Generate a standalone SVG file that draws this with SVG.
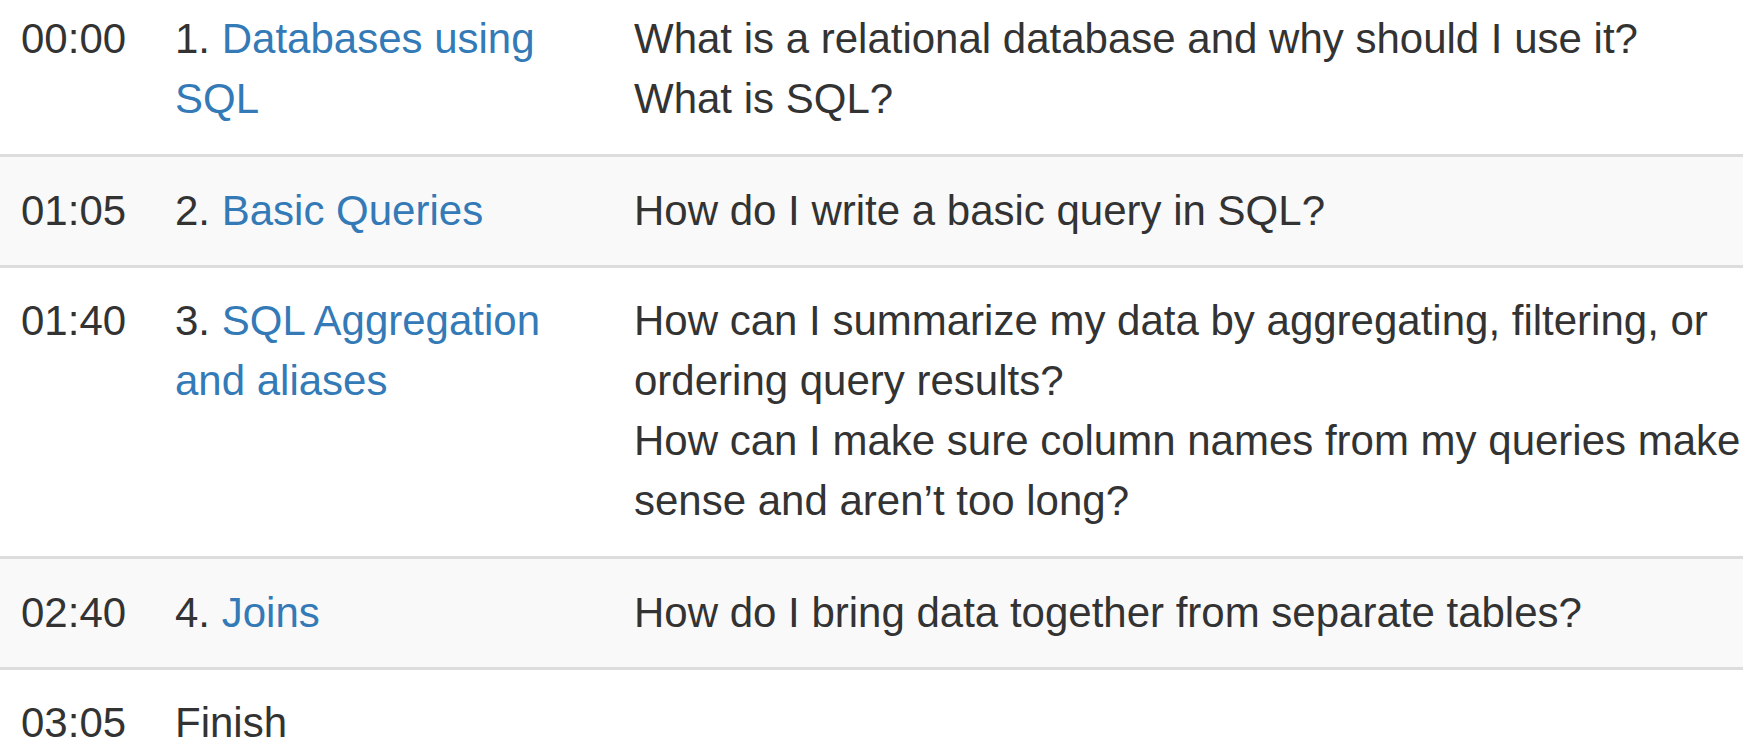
<svg xmlns="http://www.w3.org/2000/svg" width="1743" height="752" viewBox="0 0 1743 752">
<style>
text{font-family:"Liberation Sans",Arial,Helvetica,sans-serif;font-size:42px;fill:#333333}
.lk{fill:#337ab7}
.stripe{fill:#f9f9f9}
.rule{fill:#dddddd}
</style>
<rect x="0" y="0" width="1743" height="752" fill="#ffffff"/>
<g id="backgrounds">
<rect class="stripe" x="0" y="157" width="1743" height="108"/>
<rect class="stripe" x="0" y="559" width="1743" height="108"/>
</g>
<g id="rules">
<rect class="rule" x="0" y="154" width="1743" height="3"/>
<rect class="rule" x="0" y="265" width="1743" height="3"/>
<rect class="rule" x="0" y="556" width="1743" height="3"/>
<rect class="rule" x="0" y="667" width="1743" height="3"/>
</g>
<g id="row1">
<text x="21" y="53">00:00</text>
<text x="175" y="53">1. <tspan class="lk">Databases using</tspan></text>
<text x="175" y="113" class="lk">SQL</text>
<text x="634" y="53">What is a relational database and why should I use it?</text>
<text x="634" y="113">What is SQL?</text>
</g>
<g id="row2">
<text x="21" y="225">01:05</text>
<text x="175" y="225">2. <tspan class="lk">Basic Queries</tspan></text>
<text x="634" y="225">How do I write a basic query in SQL?</text>
</g>
<g id="row3">
<text x="21" y="335">01:40</text>
<text x="175" y="335">3. <tspan class="lk">SQL Aggregation</tspan></text>
<text x="175" y="395" class="lk">and aliases</text>
<text x="634" y="335">How can I summarize my data by aggregating, filtering, or</text>
<text x="634" y="395">ordering query results?</text>
<text x="634" y="455">How can I make sure column names from my queries make</text>
<text x="634" y="515">sense and aren’t too long?</text>
</g>
<g id="row4">
<text x="21" y="627">02:40</text>
<text x="175" y="627">4. <tspan class="lk">Joins</tspan></text>
<text x="634" y="627">How do I bring data together from separate tables?</text>
</g>
<g id="row5">
<text x="21" y="737">03:05</text>
<text x="175" y="737">Finish</text>
</g>
</svg>
